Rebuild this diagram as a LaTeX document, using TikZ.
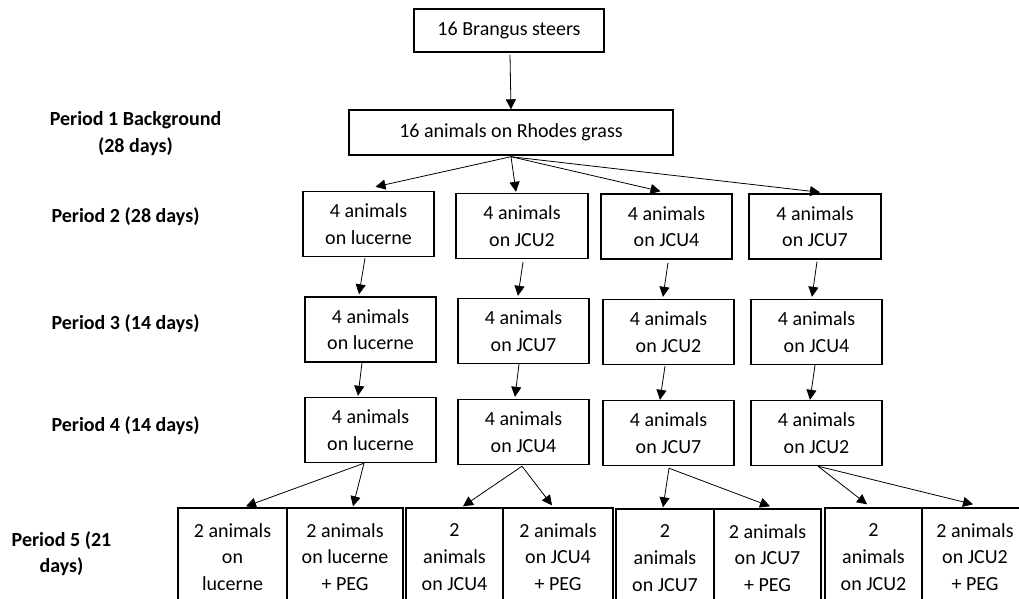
\documentclass[tikz,border=0pt]{standalone}
\usepackage{fontspec}
\setmainfont{Carlito}
\usetikzlibrary{arrows.meta,calc}
\tikzset{
  box/.style={draw, line width=1.4pt, align=center, inner sep=0pt,
    font=\fontsize{20}{26.7}\selectfont},
  pbox/.style={box, minimum width=131pt, minimum height=65pt},
  fbox/.style={box, minimum height=98pt},
  lbl/.style={align=center, inner sep=0pt, font=\fontsize{20}{26.7}\selectfont\bfseries},
  arr/.style={line width=0.8pt, -{Triangle[length=10pt,width=10pt]}}
}
\begin{document}
\begin{tikzpicture}[x=1pt,y=-1pt]
\useasboundingbox (0,0) rectangle (1019,598);
\fill[white] (0,0) rectangle (1019,598);
\clip (0,0) rectangle (1019,598);

% top
\node[box, minimum width=190pt, minimum height=43pt] (top) at (509,30.5) {16 Brangus steers};
\node[box, minimum width=324pt, minimum height=45pt] (rh) at (511,132.5) {16 animals on Rhodes grass};

% period 2
\node[pbox, minimum width=131pt] (p2a) at (368.5,224) {4 animals\\on lucerne};
\node[pbox, minimum width=132pt] (p2b) at (522,226) {4 animals\\on JCU2};
\node[pbox] (p2c) at (666.5,226.5) {4 animals\\on JCU4};
\node[pbox, minimum width=132pt] (p2d) at (815,226.5) {4 animals\\on JCU7};

% period 3
\node[pbox] (p3a) at (370.5,329.5) {4 animals\\on lucerne};
\node[pbox] (p3b) at (523.5,331) {4 animals\\on JCU7};
\node[pbox] (p3c) at (668.5,332) {4 animals\\on JCU2};
\node[pbox] (p3d) at (816.5,332) {4 animals\\on JCU4};

% period 4
\node[pbox] (p4a) at (370.5,430) {4 animals\\on lucerne};
\node[pbox] (p4b) at (523.5,432) {4 animals\\on JCU4};
\node[pbox] (p4c) at (668.5,433) {4 animals\\on JCU7};
\node[pbox] (p4d) at (816.5,433) {4 animals\\on JCU2};

% period 5
\node[fbox, minimum width=109pt] (b1) at (232.5,557) {2 animals\\on\\lucerne};
\node[fbox, minimum width=116pt] (b2) at (345,557) {2 animals\\on lucerne\\+ PEG};
\node[fbox, minimum width=97pt] (b3) at (454.5,557) {2\\animals\\on JCU4};
\node[fbox, minimum width=110pt] (b4) at (558,557) {2 animals\\on JCU4\\+ PEG};
\node[fbox, minimum width=98pt] (b5) at (665,558) {2\\animals\\on JCU7};
\node[fbox, minimum width=107pt] (b6) at (767.5,558) {2 animals\\on JCU7\\+ PEG};
\node[fbox, minimum width=97pt] (b7) at (873.5,557) {2\\animals\\on JCU2};
\node[fbox, minimum width=106pt] (b8) at (975,557) {2 animals\\on JCU2\\+ PEG};

% labels
\node[lbl] (l1) at (135.5,133.5) {Period 1 Background\\(28 days)};
\node[lbl] (l2) at (125.5,217) {Period 2 (28 days)};
\node[lbl] (l3) at (125.5,324) {Period 3 (14 days)};
\node[lbl] (l4) at (125.5,426) {Period 4 (14 days)};
\node[lbl] (l5) at (61.5,553.5) {Period 5 (21\\days)};

% arrows
\draw[arr] ($(top.south)+(1,2)$) -- (rh.north);
\draw[arr] ($(rh.south)+(0,1)$) -- ($(p2a.north)+(7,-4)$);
\draw[arr] ($(rh.south)+(0,1)$) -- ($(p2b.north)+(-6,-1)$);
\draw[arr] ($(rh.south)+(0,1)$) -- ($(p2c.north)+(-6,-2)$);
\draw[arr] ($(rh.south)+(0,1)$) -- ($(p2d.north)+(5,-1)$);

\draw[arr] ($(p2a.south)+(-3.5,1)$) -- ($(p3a.north)+(-11.5,-2)$);
\draw[arr] ($(p2b.south)+(1,3)$) -- ($(p3b.north)+(-5.5,-2)$);
\draw[arr] ($(p2c.south)+(1.5,3)$) -- ($(p3c.north)+(-5.5,-2)$);
\draw[arr] ($(p2d.south)+(2,2)$) -- ($(p3d.north)+(-4.5,-2)$);

\draw[arr] ($(p3a.south)+(-8.5,0)$) -- ($(p4a.north)+(-12.5,-1)$);
\draw[arr] ($(p3b.south)+(-4.5,0)$) -- ($(p4b.north)+(-8.5,-2)$);
\draw[arr] ($(p3c.south)+(-3.5,1)$) -- ($(p4c.north)+(-8.5,0)$);
\draw[arr] ($(p3d.south)+(-1.5,0)$) -- ($(p4d.north)+(-6.5,0)$);

\draw[arr] ($(p4a.south)+(-6.5,0)$) -- ($(b1.north)+(13.5,-1)$);
\draw[arr] ($(p4a.south)+(-6.5,0)$) -- ($(b2.north)+(8,-1)$);
\draw[arr] ($(p4b.south)+(-1.5,1)$) -- ($(b3.north)+(8.5,-1)$);
\draw[arr] ($(p4b.south)+(-1.5,1)$) -- ($(b4.north)+(-6,-2)$);
\draw[arr] ($(p4c.south)+(0.5,2)$) -- ($(b5.north)+(-2,-1)$);
\draw[arr] ($(p4c.south)+(0.5,2)$) -- ($(b6.north)+(2.5,-2)$);
\draw[arr] ($(p4d.south)+(1.5,0)$) -- ($(b7.north)+(-6.5,-3)$);
\draw[arr] ($(p4d.south)+(1.5,0)$) -- ($(b8.north)+(-2,-3)$);
\end{tikzpicture}
\end{document}
